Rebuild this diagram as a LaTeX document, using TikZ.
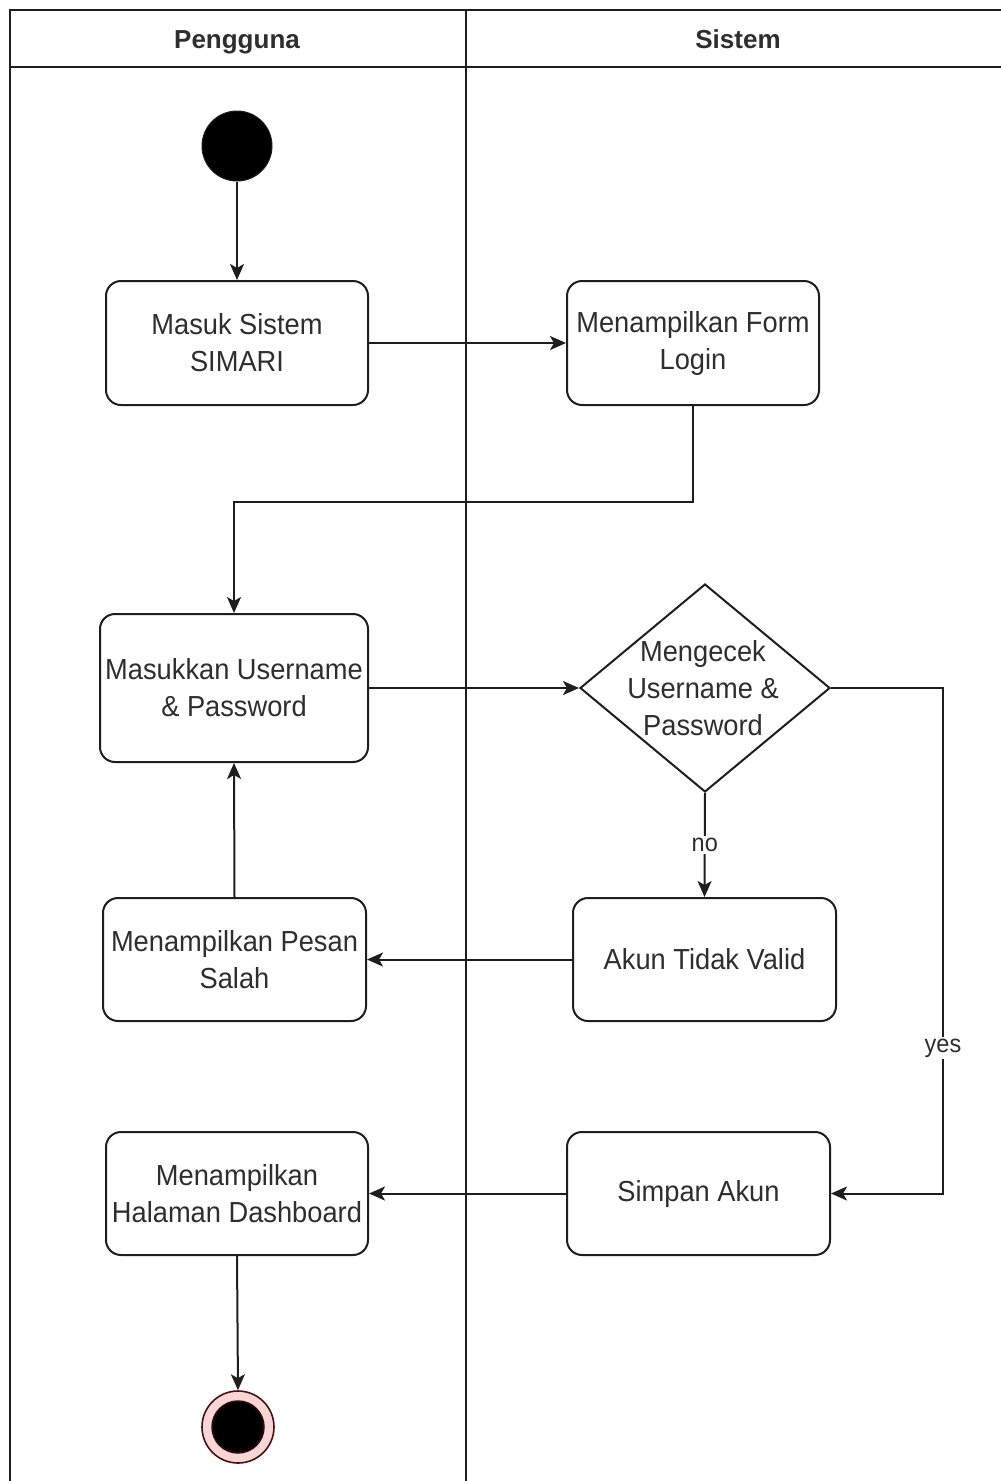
\documentclass[tikz,border=0pt]{standalone}
\usepackage{fontspec}
\setmainfont{Liberation Sans}
\newfontfamily\bodyfont{Liberation Sans}[FakeStretch=0.94]
\usetikzlibrary{shapes.geometric,arrows.meta}
\definecolor{ln}{HTML}{1E1E1E}
\definecolor{tx}{HTML}{2E2E2E}
\definecolor{ringpink}{HTML}{F9D6D6}
\definecolor{ringred}{HTML}{4A1010}
\begin{document}
\begin{tikzpicture}[x=1pt,y=-1pt,
  lane/.style={draw=ln,line width=2.8pt},
  act/.style={draw=ln,line width=2pt,rounded corners=15pt,align=center,text=tx,
    font=\bodyfont\fontsize{29}{37}\selectfont,inner sep=0pt},
  txt/.style={align=center,text=tx,font=\bodyfont\fontsize{29}{37}\selectfont,inner sep=0pt},
  lbl/.style={fill=white,text=tx,font=\bodyfont\fontsize{25}{30}\selectfont,inner sep=2pt},
  arr/.style={draw=ln,line width=2pt,-{Stealth[length=16pt,width=14pt,inset=4pt]}},
  hdr/.style={text=tx,font=\bfseries\fontsize{26}{30}\selectfont,anchor=base,inner sep=0pt}]
\useasboundingbox (0,0) rectangle (1001,1481);
\fill[white] (0,0) rectangle (1001,1481);
% swimlanes
\draw[lane] (10,1481) -- (10,10) -- (1001,10);
\draw[lane] (10,67) -- (1001,67);
\draw[lane] (466,10) -- (466,1481);
\node[hdr] (h1) at (237,48) {Pengguna};
\node[hdr] (h2) at (738,48) {Sistem};
% nodes
\node[circle,fill=black,draw=ln,line width=1pt,minimum size=70pt,inner sep=0pt] (start) at (237,146) {};
\node[act,minimum width=262pt,minimum height=124pt] (b1) at (237,343) {Masuk Sistem\\SIMARI};
\node[act,minimum width=252pt,minimum height=124pt] (b2) at (693,343) {Menampilkan Form\\Login};
\node[act,minimum width=268pt,minimum height=148pt] (b3) at (234,688) {Masukkan Username\\\& Password};
\node[diamond,draw=ln,line width=2pt,minimum width=250pt,minimum height=208pt,inner sep=0pt] (d) at (705,688) {};
\node[txt] (dt) at (703,688) {Mengecek\\Username \&\\Password};
\node[act,minimum width=263pt,minimum height=123pt] (b4) at (704.5,959.5) {Akun Tidak Valid};
\node[act,minimum width=263pt,minimum height=123pt] (b5) at (234.5,959.5) {Menampilkan Pesan\\Salah};
\node[act,minimum width=263pt,minimum height=123pt] (b6) at (698.5,1193.5) {Simpan Akun};
\node[act,minimum width=262pt,minimum height=123pt] (b7) at (237,1193.5) {Menampilkan\\Halaman Dashboard};
\node[circle,fill=ringpink,draw=ringred,line width=1.6pt,minimum size=72pt,inner sep=0pt] (end) at (238,1427) {};
\node[circle,fill=black,draw=ringred!70!black,line width=1.5pt,minimum size=52pt,inner sep=0pt] (endin) at (end.center) {};
\coordinate (yc) at (943,688);
% edges
\draw[arr] (start) -- (b1);
\draw[arr] (b1.east) -- (b2.west);
\draw[arr] (b2.south) |- ([yshift=111pt]b3.north) -- (b3.north);
\draw[arr] (b3.east) -- (d.west);
\draw[arr] (d.south) -- node[lbl] {no} (b4.north);
\draw[arr] (b4.west) -- (b5.east);
\draw[arr] (b5.north) -- (b3.south);
\draw[arr] (d.east) -- (yc) |- node[lbl,pos=0.356] {yes} (b6.east);
\draw[arr] (b6.west) -- (b7.east);
\draw[arr] (b7.south) -- (end.north);
\end{tikzpicture}
\end{document}
